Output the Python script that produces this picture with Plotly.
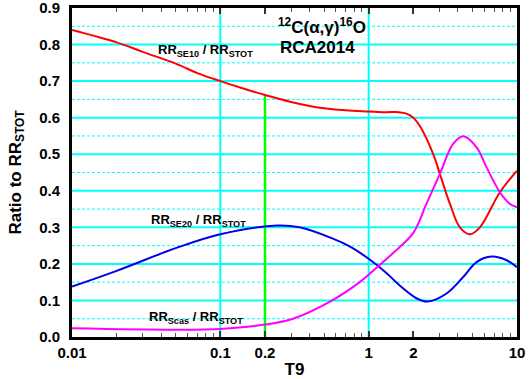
import plotly.graph_objects as go

# ---- data ----
t9_se10 = [0.01, 0.02, 0.03, 0.05, 0.07, 0.1, 0.15, 0.2, 0.3, 0.4, 0.5, 0.7, 1.0,
           1.3, 1.6, 1.8, 2.0, 2.21, 2.72, 3.02, 3.53, 4.12, 4.81, 5.62, 7.67, 10.0]
rr_se10 = [0.84, 0.806, 0.78, 0.748, 0.722, 0.70, 0.677, 0.662, 0.643, 0.632, 0.626, 0.620, 0.617,
           0.615, 0.615, 0.611, 0.600, 0.578, 0.501, 0.446, 0.364, 0.300, 0.281, 0.300, 0.396, 0.455]

t9_se20 = [0.01, 0.02, 0.05, 0.1, 0.243, 0.342, 0.574, 0.75, 1.0, 1.3, 1.62, 2.1, 2.5,
           3.35, 4.34, 5.34, 6.75, 8.51, 10.0]
rr_se20 = [0.138, 0.181, 0.243, 0.281, 0.305, 0.300, 0.269, 0.247, 0.214, 0.177, 0.141, 0.106, 0.097,
           0.119, 0.164, 0.205, 0.220, 0.210, 0.191]

t9_scas = [0.01, 0.05, 0.1, 0.2, 0.309, 0.545, 0.87, 1.156, 1.5, 2.0, 2.45, 3.02, 3.71, 4.34,
           5.34, 6.24, 7.67, 8.97, 10.0]
rr_scas = [0.024, 0.020, 0.022, 0.034, 0.050, 0.096, 0.150, 0.193, 0.234, 0.285, 0.364, 0.446, 0.528, 0.549,
           0.519, 0.464, 0.396, 0.364, 0.355]

marker_t9 = [0.2, 0.2]
marker_rr = [0.0, 0.662]

x_tickvals = [0.01, 0.1, 0.2, 1, 2, 10]
x_ticktext = ["0.01", "0.1", "0.2", "1", "2", "10"]
x_minor = [0.02, 0.03, 0.04, 0.05, 0.06, 0.07, 0.08, 0.09, 0.3, 0.4, 0.5, 0.6, 0.7, 0.8, 0.9,
           3, 4, 5, 6, 7, 8, 9]
y_tickvals = [0.0, 0.1, 0.2, 0.3, 0.4, 0.5, 0.6, 0.7, 0.8, 0.9]
y_ticktext = ["0.0", "0.1", "0.2", "0.3", "0.4", "0.5", "0.6", "0.7", "0.8", "0.9"]
x_vgrid = [0.1, 1]
y_grid_solid = [0.1, 0.2, 0.3, 0.4, 0.5, 0.6, 0.7, 0.8]
y_grid_dash = [0.05, 0.15, 0.25, 0.35, 0.45, 0.55, 0.65, 0.75, 0.85]

FONT = "Liberation Sans, Arial, sans-serif"
CYAN = "#00FFFF"

fig = go.Figure()
fig.add_trace(go.Scatter(x=marker_t9, y=marker_rr, mode="lines",
                         line=dict(color="#00FF00", width=2.5), showlegend=False))
fig.add_trace(go.Scatter(x=t9_se10, y=rr_se10, mode="lines",
                         line=dict(color="#FF0000", width=2, shape="spline", smoothing=1.0), showlegend=False))
fig.add_trace(go.Scatter(x=t9_se20, y=rr_se20, mode="lines",
                         line=dict(color="#0000EE", width=2, shape="spline", smoothing=1.0), showlegend=False))
fig.add_trace(go.Scatter(x=t9_scas, y=rr_scas, mode="lines",
                         line=dict(color="#FF00FF", width=2, shape="spline", smoothing=1.0), showlegend=False))

for xv in x_vgrid:
    fig.add_shape(type="line", xref="x", yref="paper", x0=xv, x1=xv, y0=0, y1=1,
                  line=dict(color=CYAN, width=2), layer="below")
for yv in y_grid_solid:
    fig.add_shape(type="line", xref="paper", yref="y", x0=0, x1=1, y0=yv, y1=yv,
                  line=dict(color=CYAN, width=2), layer="below")
for yv in y_grid_dash:
    fig.add_shape(type="line", xref="paper", yref="y", x0=0, x1=1, y0=yv, y1=yv,
                  line=dict(color=CYAN, width=1, dash="3px,2px"), layer="below")

fig.update_layout(
    width=529, height=379,
    margin=dict(l=72, r=12, t=8, b=42),
    paper_bgcolor="white", plot_bgcolor="white",
    font=dict(family=FONT, color="black"),
    xaxis=dict(type="log", range=[-2, 1], tickvals=x_tickvals, ticktext=x_ticktext,
               showgrid=False, zeroline=False, automargin=False, ticklabeloverflow="allow",
               showline=True, linecolor="black", linewidth=3, mirror="allticks",
               ticks="inside", ticklen=6, tickwidth=1.5, tickcolor="#333",
               minor=dict(tickvals=x_minor, ticks="inside", ticklen=4, tickwidth=1, tickcolor="#555"),
               tickfont=dict(size=15, family=FONT, weight="bold"),
               title=dict(text="T9", font=dict(size=17, family=FONT, weight="bold"), standoff=4)),
    yaxis=dict(range=[0, 0.9], tickvals=y_tickvals, ticktext=y_ticktext,
               showgrid=False, zeroline=False, automargin=False, ticklabeloverflow="allow",
               showline=True, linecolor="black", linewidth=3, mirror=True,
               ticks="", ticklabelstandoff=6,
               tickfont=dict(size=15, family=FONT, weight="bold"),
               title=dict(text="Ratio to RR<sub>STOT</sub>", font=dict(size=17, family=FONT, weight="bold"),
                          standoff=14)),
)

ann_font = dict(size=13, family=FONT, color="black", weight="bold")
big_font = dict(size=17, family=FONT, color="black", weight="bold")
common = dict(xref="paper", yref="paper", showarrow=False, xanchor="center", yanchor="middle")
fig.add_annotation(text="RR<sub>SE10</sub> / RR<sub>STOT</sub>", x=0.30, y=0.872, font=ann_font, **common)
fig.add_annotation(text="RR<sub>SE20</sub> / RR<sub>STOT</sub>", x=0.284, y=0.355, font=ann_font, **common)
fig.add_annotation(text="RR<sub>Scas</sub> / RR<sub>STOT</sub>", x=0.279, y=0.06, font=ann_font, **common)
fig.add_annotation(text="<sup>12</sup>C(α,γ)<sup>16</sup>O", x=0.562, y=0.946, font=big_font, **common)
fig.add_annotation(text="RCA2014", x=0.551, y=0.880, font=big_font, **common)

fig.write_html("out.html")
